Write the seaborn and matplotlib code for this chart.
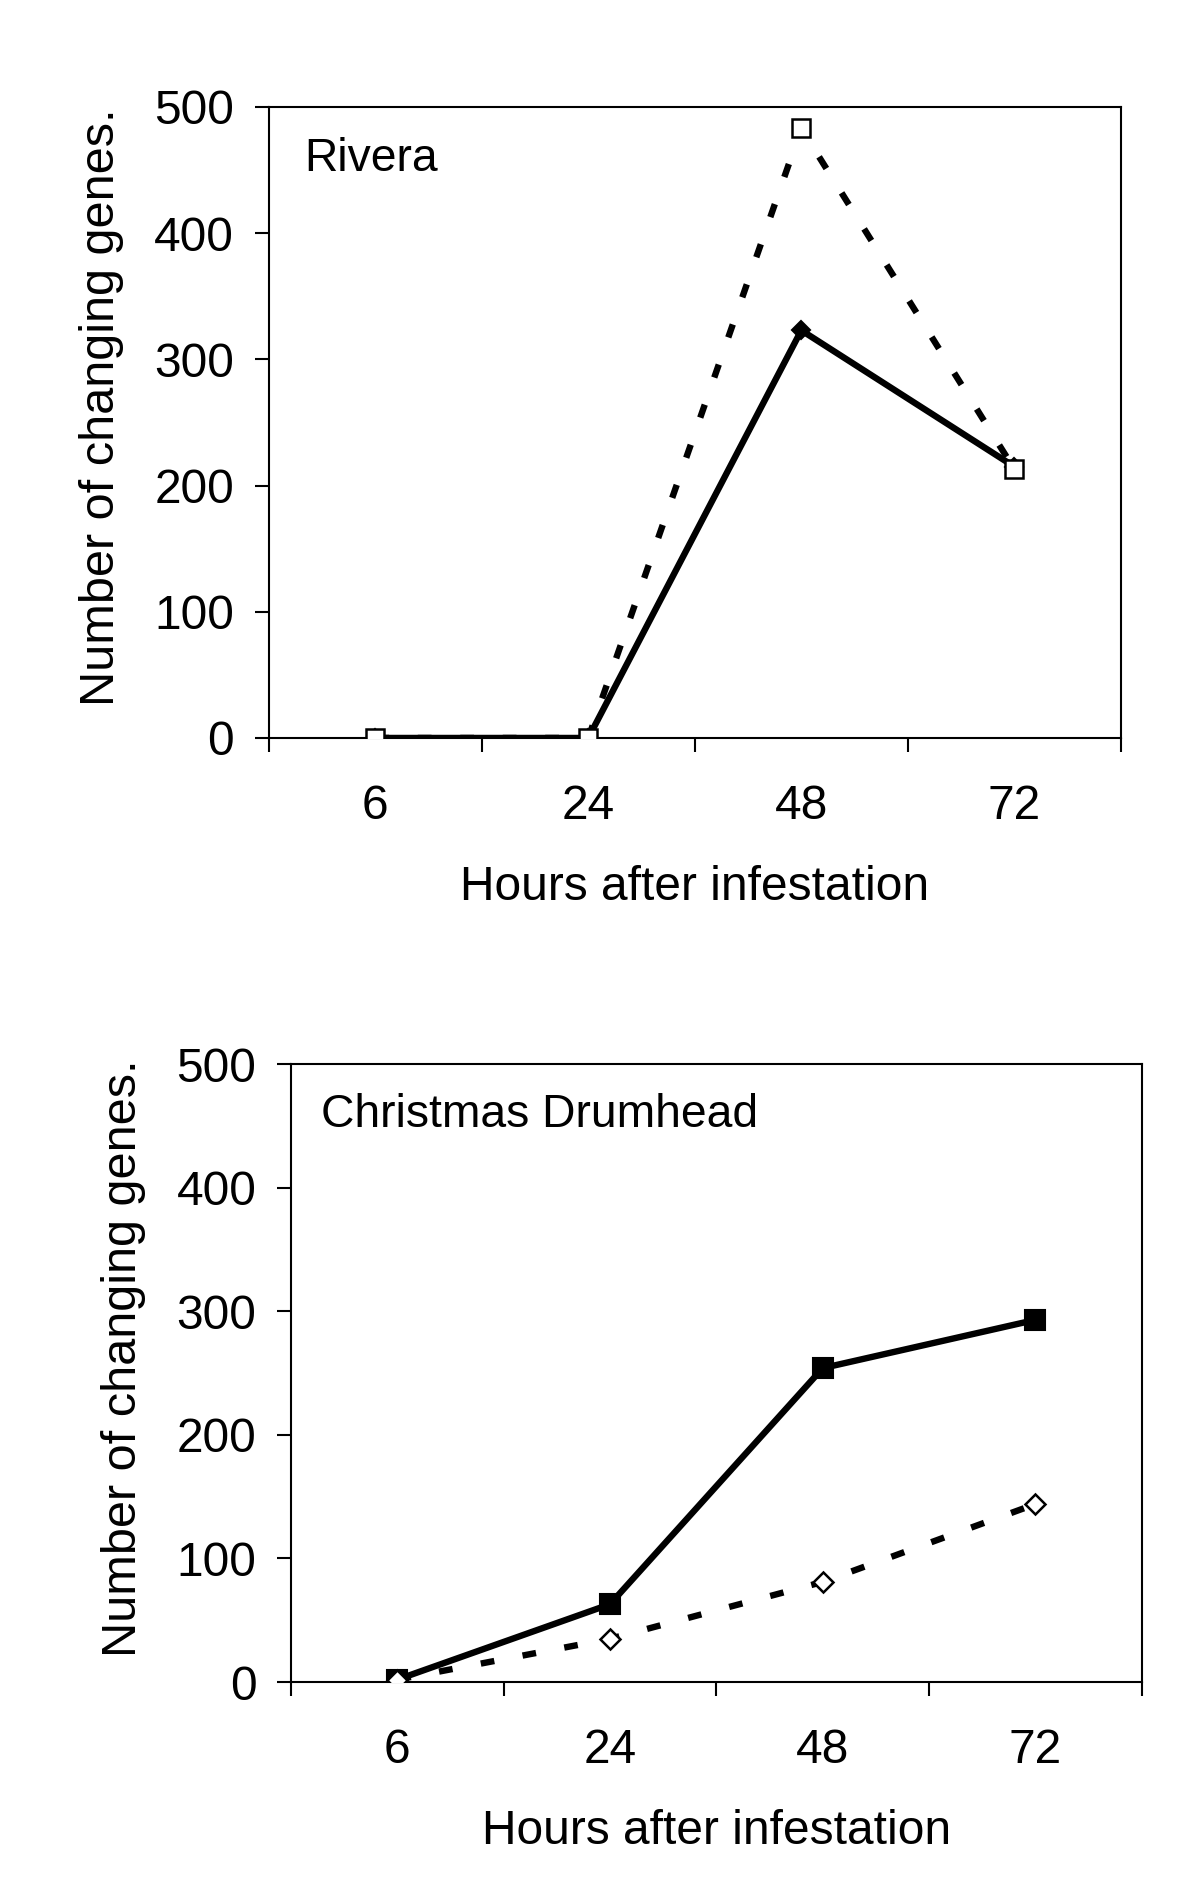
import matplotlib
matplotlib.use("Agg")
import matplotlib.pyplot as plt
import seaborn as sns
import pandas as pd

# ---- data ----
hours = ["6", "24", "48", "72"]
rivera_solid = [0, 0, 323, 215]
rivera_dashed = [0, 0, 483, 213]
cd_solid = [2, 63, 254, 293]
cd_dashed = [2, 35, 81, 144]
y_ticks = [0, 100, 200, 300, 400, 500]
panel_titles = ["Rivera", "Christmas Drumhead"]
xlabel = "Hours after infestation"
ylabel = "Number of changing genes."

sns.set_theme(style="white")
plt.rcParams["font.family"] = ["Liberation Sans", "DejaVu Sans"]
plt.rcParams["text.color"] = "black"
plt.rcParams["axes.labelcolor"] = "black"
plt.rcParams["xtick.color"] = "black"
plt.rcParams["ytick.color"] = "black"
FS = 34.5
FS_Y = 35
FS_T = 33.3

fig = plt.figure(figsize=(12, 19), dpi=100)
ax1 = fig.add_axes([0.224, 0.6116, 0.710, 0.3321])
ax2 = fig.add_axes([0.2425, 0.1147, 0.709, 0.3253])

LW = 4.6


def draw(ax, solid, dashed, solid_marker, solid_ms, dashed_marker, dashed_ms,
         title, title_x):
    df_s = pd.DataFrame({"hours": hours, "n": solid})
    df_d = pd.DataFrame({"hours": hours, "n": dashed})
    sns.pointplot(data=df_s, x="hours", y="n", order=hours, ax=ax, color="black",
                  markers=solid_marker, linestyles="-", errorbar=None)
    ln_s = ax.lines[-1]
    sns.pointplot(data=df_d, x="hours", y="n", order=hours, ax=ax, color="black",
                  markers=dashed_marker, linestyles="--", errorbar=None)
    ln_d = ax.lines[-1]
    ln_s.set_linewidth(LW)
    ln_s.set_markersize(solid_ms)
    ln_s.set_markerfacecolor("black")
    ln_s.set_markeredgecolor("black")
    ln_s.set_markeredgewidth(1.5)
    ln_s.set_zorder(3)
    ln_d.set_linewidth(LW)
    ln_d.set_dashes((2.15, 4.5))
    ln_d.set_markersize(dashed_ms)
    ln_d.set_markerfacecolor("white")
    ln_d.set_markeredgecolor("black")
    ln_d.set_markeredgewidth(1.8)
    ln_d.set_zorder(4)
    ax.set_ylim(0, 500)
    ax.set_xlim(-0.5, 3.5)
    ax.set_yticks(y_ticks)
    ax.set_yticklabels([str(v) for v in y_ticks], fontsize=FS)
    ax.set_xticks(range(len(hours)))
    ax.set_xticklabels(hours, fontsize=FS)
    ax.set_xticks([i - 0.5 for i in range(len(hours) + 1)], minor=True)
    ax.tick_params(axis="x", which="major", length=0, pad=33)
    ax.tick_params(axis="x", which="minor", length=10, width=1.5, direction="out",
                   bottom=True, color="black")
    ax.tick_params(axis="y", which="major", length=10, width=1.5, direction="out",
                   left=True, pad=15, color="black")
    for sp in ax.spines.values():
        sp.set_visible(True)
        sp.set_color("black")
        sp.set_linewidth(1.5)
    ax.set_xlabel(xlabel, fontsize=FS, labelpad=26)
    ax.set_ylabel(ylabel, fontsize=FS_Y, labelpad=22)
    ax.yaxis.label.set_y(0.524)
    ax.text(title_x, 0.918, title, transform=ax.transAxes, fontsize=FS_T,
            ha="left", va="center", color="black")
    ax.grid(False)


draw(ax1, rivera_solid, rivera_dashed, "D", 9.5, "s", 13, panel_titles[0], 0.042)
draw(ax2, cd_solid, cd_dashed, "s", 14.5, "D", 10.5, panel_titles[1], 0.035)

fig.savefig("out.png", dpi=100, facecolor="white")
